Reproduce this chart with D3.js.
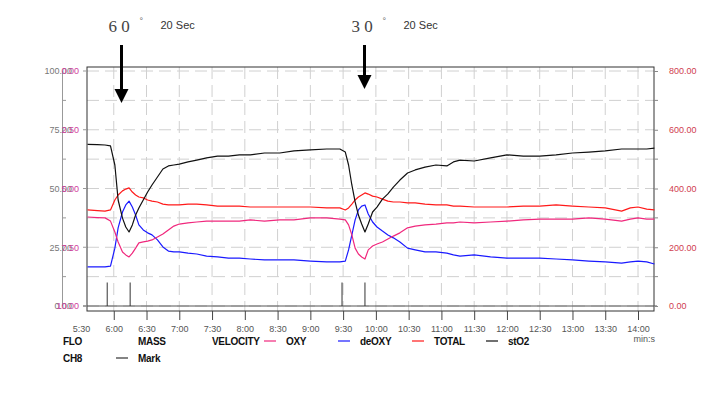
<!DOCTYPE html>
<html lang="en">
<head>
    <meta charset="UTF-8">
    <title>NIRS trace</title>
    <script src="https://d3js.org/d3.v7.min.js"></script>
    <style type="text/css">
        body { margin: 0; background: #fff; }
        text { font-family: "Liberation Sans", Arial, sans-serif; }
    </style>
</head>
<body>
    <div id="chartArea"></div>
    <script type="text/javascript">
        // time in seconds (5:30 = 330)
        var times = [336, 345, 352, 357, 361, 364, 368, 371, 374, 377, 380, 383, 387, 391, 395, 400, 405, 410, 415, 420,
            428, 436, 445, 455, 465, 475, 485, 498, 512, 525, 540, 555, 567, 572, 575, 578, 581, 584, 587, 590,
            593, 597, 601, 606, 611, 616, 622, 629, 636, 645, 655, 665, 671, 677, 690, 705, 720, 735, 750, 765,
            780, 795, 810, 825, 833, 840, 848, 855];

        // stO2 (%) - left axis
        var stO2 = [68.8, 68.7, 68.5, 68.1, 60.0, 45.1, 37.4, 33.6, 31.5, 34.5, 38.7, 41.7, 45.1, 48.5, 51.5, 54.9, 58.3, 59.6, 60.0, 60.4,
            61.3, 62.1, 63.0, 63.8, 63.8, 64.3, 64.3, 65.1, 65.1, 66.0, 66.4, 66.8, 66.8, 65.5, 60.0, 51.5, 44.3, 38.7, 34.9, 31.5,
            34.9, 40.0, 42.1, 45.5, 47.7, 50.6, 53.6, 56.6, 57.9, 59.1, 60.0, 59.6, 61.3, 62.1, 61.7, 63.0, 64.3, 63.8, 63.8, 64.3,
            65.1, 65.5, 66.0, 66.8, 66.8, 66.8, 66.8, 67.2];

        // hemoglobin - right axis
        var total = [327, 325, 323, 327, 361, 378, 392, 398, 402, 388, 378, 371, 368, 361, 357, 354, 347, 344, 344, 344,
            347, 347, 344, 340, 340, 340, 337, 337, 337, 337, 337, 334, 334, 327, 334, 347, 361, 371, 378, 385,
            381, 374, 371, 364, 357, 354, 354, 351, 351, 347, 344, 344, 340, 340, 337, 337, 337, 340, 340, 344,
            340, 337, 334, 323, 334, 337, 330, 327];
        var oxy = [303, 301, 300, 289, 252, 218, 184, 174, 167, 180, 197, 215, 218, 221, 225, 235, 245, 259, 272, 279,
            283, 286, 289, 289, 289, 289, 293, 289, 293, 293, 300, 300, 296, 293, 276, 242, 197, 177, 167, 160,
            191, 204, 211, 218, 228, 238, 249, 266, 272, 276, 279, 283, 283, 286, 283, 286, 289, 293, 296, 296,
            296, 300, 296, 289, 296, 300, 296, 296];
        var deoxy = [133, 133, 133, 136, 197, 266, 320, 344, 357, 337, 310, 276, 259, 249, 242, 225, 201, 187, 184, 184,
            180, 177, 170, 167, 163, 163, 160, 157, 157, 157, 153, 150, 150, 153, 191, 242, 293, 327, 340, 344,
            313, 286, 269, 255, 242, 232, 218, 197, 191, 184, 184, 180, 174, 170, 174, 167, 163, 163, 163, 160,
            157, 153, 150, 146, 150, 153, 150, 143];

        // event marks (CH8)
        var markTimes = [354, 375, 569, 590];
        var markHeight = 10;

        var xTicks = d3.range(330, 841, 30);
        var leftTicks = [0, 25, 50, 75, 100];
        var magentaTicks = [0, 2.5, 5, 7.5, 10];
        var rightTicks = [0, 200, 400, 600, 800];

        var annotations = [
            { t: 367, big: '6 0', small: '20 Sec' },
            { t: 589, big: '3 0', small: '20 Sec' }
        ];

        var w = 720, h = 397;
        var box = { left: 87, right: 654, top: 67, bottom: 311 };

        var svg = d3.select('#chartArea').append('svg')
            .attr('width', w)
            .attr('height', h);

        svg.append('rect').attr('width', w).attr('height', h).attr('fill', '#fff');

        var xScale = d3.scaleLinear().domain([330, 840]).range([81, 638]);
        var yLeft = d3.scaleLinear().domain([0, 100]).range([306, 71]);
        var yMag = d3.scaleLinear().domain([0, 10]).range([71, 306]);
        var yRight = d3.scaleLinear().domain([0, 800]).range([306, 71]);

        function fmtTime(s) {
            var m = Math.floor(s / 60), sec = s % 60;
            return m + ':' + (sec < 10 ? '0' : '') + sec;
        }

        // grid
        var grid = svg.append('g');
        d3.range(0, 100.1, 12.5).forEach(function (v) {
            grid.append('line')
                .attr('x1', box.left).attr('x2', box.right)
                .attr('y1', yLeft(v)).attr('y2', yLeft(v))
                .attr('stroke', '#d0d0d0').attr('stroke-dasharray', '12,6');
        });
        xTicks.slice(1).forEach(function (t) {
            grid.append('line')
                .attr('x1', xScale(t)).attr('x2', xScale(t))
                .attr('y1', box.top).attr('y2', box.bottom)
                .attr('stroke', '#d0d0d0').attr('stroke-dasharray', '12,6');
        });

        // plot box
        svg.append('rect')
            .attr('x', box.left).attr('y', box.top)
            .attr('width', box.right - box.left).attr('height', box.bottom - box.top)
            .attr('fill', 'none').attr('stroke', '#333').attr('stroke-width', 1);

        // zero line
        svg.append('line')
            .attr('x1', 83).attr('x2', 657)
            .attr('y1', yLeft(0)).attr('y2', yLeft(0))
            .attr('stroke', '#555');

        // x axis
        var xAxis = svg.append('g')
            .attr('transform', 'translate(0,' + box.bottom + ')')
            .call(d3.axisBottom(xScale).tickValues(xTicks).tickFormat(fmtTime).tickSize(9).tickPadding(6));
        xAxis.select('.domain').remove();
        xAxis.selectAll('line').attr('stroke', '#444').filter(function (d) { return d === 330; }).remove();
        xAxis.selectAll('text').attr('fill', '#555').style('font-size', '9px');

        // left gray axis line with half-step ticks
        svg.append('line')
            .attr('x1', 62.5).attr('x2', 62.5).attr('y1', yLeft(100)).attr('y2', yLeft(0))
            .attr('stroke', '#999');
        d3.range(12.5, 100, 25).forEach(function (v) {
            svg.append('line')
                .attr('x1', 62).attr('x2', 66).attr('y1', yLeft(v)).attr('y2', yLeft(v))
                .attr('stroke', '#999');
        });
        leftTicks.forEach(function (v) {
            svg.append('line')
                .attr('x1', 83).attr('x2', box.left).attr('y1', yLeft(v)).attr('y2', yLeft(v))
                .attr('stroke', '#999');
        });

        // left labels (gray) + overlapping magenta labels, as in the original print
        var leftAxis = svg.append('g')
            .attr('transform', 'translate(72,0)')
            .call(d3.axisLeft(yLeft).tickValues(leftTicks).tickFormat(d3.format('.2f')).tickSize(0).tickPadding(0));
        leftAxis.select('.domain').remove();
        leftAxis.selectAll('text').attr('fill', '#777').style('font-size', '9px');

        var magAxis = svg.append('g')
            .attr('transform', 'translate(79,0)')
            .call(d3.axisLeft(yMag).tickValues(magentaTicks).tickFormat(d3.format('.2f')).tickSize(0).tickPadding(0));
        magAxis.select('.domain').remove();
        magAxis.selectAll('text').attr('fill', '#d0409a').style('font-size', '9px');

        // right axis
        var rightAxis = svg.append('g')
            .attr('transform', 'translate(' + box.right + ',0)')
            .call(d3.axisRight(yRight).tickValues(rightTicks).tickFormat(d3.format('.2f')).tickSize(4).tickPadding(11));
        rightAxis.select('.domain').remove();
        rightAxis.selectAll('line').attr('stroke', '#888');
        rightAxis.selectAll('text').attr('fill', '#d0404f').style('font-size', '9px');
        d3.range(100, 800, 200).forEach(function (v) {
            svg.append('line')
                .attr('x1', box.right).attr('x2', box.right + 4).attr('y1', yRight(v)).attr('y2', yRight(v))
                .attr('stroke', '#888');
        });

        // series
        function lineFor(values, scale) {
            return d3.line()
                .x(function (d, i) { return xScale(times[i]); })
                .y(function (d) { return scale(d); })(values);
        }
        var series = [
            { values: deoxy, scale: yRight, color: '#1a1aff' },
            { values: oxy, scale: yRight, color: '#f0287d' },
            { values: total, scale: yRight, color: '#ff1a1a' },
            { values: stO2, scale: yLeft, color: '#111' }
        ];
        series.forEach(function (s) {
            svg.append('path')
                .attr('d', lineFor(s.values, s.scale))
                .attr('fill', 'none')
                .attr('stroke', s.color)
                .attr('stroke-width', 1.2)
                .attr('stroke-linejoin', 'round');
        });

        // marks
        svg.selectAll('.mark')
            .data(markTimes)
            .enter()
            .append('line')
            .attr('class', 'mark')
            .attr('x1', function (d) { return xScale(d); })
            .attr('x2', function (d) { return xScale(d); })
            .attr('y1', yLeft(0))
            .attr('y2', yLeft(markHeight))
            .attr('stroke', '#333');

        // arrows and annotations
        var arrowBottoms = [103, 89];
        annotations.forEach(function (a, i) {
            var x = Math.round(xScale(a.t)) + 0.5;
            var yb = arrowBottoms[i];
            svg.append('line')
                .attr('x1', x).attr('x2', x).attr('y1', 45).attr('y2', yb - 12)
                .attr('stroke', '#000').attr('stroke-width', 3);
            svg.append('path')
                .attr('d', 'M' + (x - 7) + ',' + (yb - 14) + 'L' + (x + 7) + ',' + (yb - 14) + 'L' + x + ',' + yb + 'Z')
                .attr('fill', '#000');
            svg.append('text')
                .attr('x', x - 13).attr('y', 32)
                .attr('fill', '#444')
                .style('font-family', '"Liberation Serif", serif')
                .style('font-size', '17px')
                .text(a.big);
            svg.append('text')
                .attr('x', x + 18).attr('y', 24)
                .attr('fill', '#666')
                .style('font-size', '9px')
                .text('°');
            svg.append('text')
                .attr('x', x + 39).attr('y', 29)
                .attr('fill', '#333')
                .style('font-size', '11px')
                .text(a.small);
        });

        // legend
        var legend1 = [
            { label: 'FLO', x: 63 },
            { label: 'MASS', x: 138 },
            { label: 'VELOCITY', x: 212 },
            { label: 'OXY', x: 286, color: '#f0287d' },
            { label: 'deOXY', x: 360, color: '#1a1aff' },
            { label: 'TOTAL', x: 434, color: '#ff1a1a' },
            { label: 'stO2', x: 508, color: '#111' }
        ];
        var legend2 = [
            { label: 'CH8', x: 63 },
            { label: 'Mark', x: 138, color: '#333' }
        ];
        function drawLegend(items, y) {
            items.forEach(function (d) {
                if (d.color) {
                    svg.append('line')
                        .attr('x1', d.x - 22).attr('x2', d.x - 10)
                        .attr('y1', y - 4).attr('y2', y - 4)
                        .attr('stroke', d.color).attr('stroke-width', 1.2);
                }
                svg.append('text')
                    .attr('x', d.x).attr('y', y)
                    .attr('fill', '#111')
                    .style('font-size', '10px')
                    .style('font-weight', 'bold')
                    .style('letter-spacing', '-0.3px')
                    .text(d.label);
            });
        }
        drawLegend(legend1, 345);
        drawLegend(legend2, 362);

        svg.append('text')
            .attr('x', 655).attr('y', 342)
            .attr('text-anchor', 'end')
            .attr('fill', '#555')
            .style('font-size', '9px')
            .text('min:s');
    </script>
</body>
</html>
